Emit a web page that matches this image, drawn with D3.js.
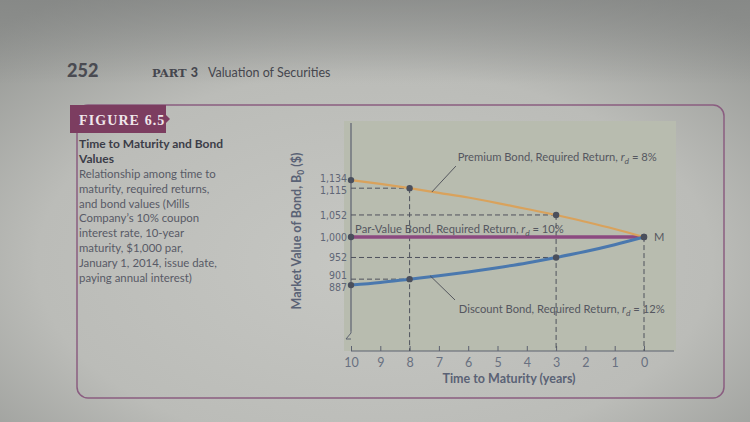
<!DOCTYPE html>
<html><head><meta charset="utf-8">
<script src="https://cdn.jsdelivr.net/npm/d3@7/dist/d3.min.js"></script>
<style>html,body{margin:0;padding:0;background:#b0b1ad;}svg{display:block;}</style>
</head><body>
<svg id="c" width="750" height="422"></svg>
<script>
const years = [10, 9, 8, 7, 6, 5, 4, 3, 2, 1, 0];
const premiumValues = [1134, 1125, 1115, 1104, 1093, 1080, 1066, 1052, 1036, 1019, 1000];
const parValues = [1000, 1000, 1000, 1000, 1000, 1000, 1000, 1000, 1000, 1000, 1000];
const discountValues = [887, 893, 901, 909, 918, 928, 939, 952, 966, 982, 1000];
const markedYears = [10, 8, 3, 0];
const yTickValues = [1134, 1115, 1052, 1000, 952, 901, 887];
const yTickLabels = ["1,134", "1,115", "1,052", "1,000", "952", "901", "887"];
const xTickValues = [10, 9, 8, 7, 6, 5, 4, 3, 2, 1, 0];
const captionBold = ["Time to Maturity and Bond", "Values"];
const captionLines = ["Relationship among time to", "maturity, required returns,", "and bond values (Mills",
  "Company\u2019s 10% coupon", "interest rate, 10-year", "maturity, $1,000 par,",
  "January 1, 2014, issue date,", "paying annual interest)"];

const svg = d3.select("#c");
const defs = svg.append("defs");
const rg = defs.append("radialGradient").attr("id","bg").attr("cx","0.5").attr("cy","0.62").attr("r","0.75");
rg.append("stop").attr("offset","0").attr("stop-color","#c6c7c3");
rg.append("stop").attr("offset","0.6").attr("stop-color","#bbbcb8");
rg.append("stop").attr("offset","1").attr("stop-color","#939592");
const lg = defs.append("linearGradient").attr("id","top").attr("x1",0).attr("y1",0).attr("x2",0).attr("y2",1);
lg.append("stop").attr("offset","0").attr("stop-color","#7f8180").attr("stop-opacity",0.6);
lg.append("stop").attr("offset","0.2").attr("stop-color","#7f8180").attr("stop-opacity",0.0);
svg.append("rect").attr("width",750).attr("height",422).attr("fill","url(#bg)");
svg.append("rect").attr("width",750).attr("height",422).attr("fill","url(#top)");

const font = "Lato, 'Open Sans', sans-serif";

// header
svg.append("text").attr("x",67).attr("y",77).attr("font-family",font).attr("font-weight",900)
  .attr("font-size",18).attr("fill","#4a4b52").text("252");
const hdr = svg.append("text").attr("x",152).attr("y",77).attr("font-family",font).attr("font-size",12.5).attr("fill","#45464e");
hdr.append("tspan").attr("font-family","'DejaVu Serif', serif").attr("font-weight","bold").attr("font-size",11.5).text("PART ");
hdr.append("tspan").attr("font-weight",900).text("3");
hdr.append("tspan").attr("dx",10).attr("font-size",12.5).text("Valuation of Securities");

// figure frame
svg.append("rect").attr("x",77).attr("y",105).attr("width",647).attr("height",293).attr("rx",11)
  .attr("fill","none").attr("stroke","#8a5d80").attr("stroke-width",1.5);
svg.append("path").attr("d","M70,105 H166 V115 L170,119 L166,123 V133 H70 Z").attr("fill","#7c3d60");
svg.append("text").attr("x",79).attr("y",125).attr("font-family","'Liberation Serif', serif").attr("font-weight","bold")
  .attr("font-size",14).attr("letter-spacing",1.1).attr("fill","#efe6ea").text("FIGURE 6.5");

// caption
captionBold.forEach((t,i)=>svg.append("text").attr("x",79).attr("y",148+i*15).attr("font-family",font)
  .attr("font-weight",700).attr("font-size",12).attr("fill","#3c3d48").text(t));
captionLines.forEach((t,i)=>svg.append("text").attr("x",79).attr("y",178+i*14.8).attr("font-family",font)
  .attr("font-size",11.4).attr("fill","#585a66").text(t));

// plot panel
svg.append("rect").attr("x",344).attr("y",121).attr("width",332).attr("height",230).attr("fill","#b8bcaf");

const x = d3.scaleLinear().domain([10,0]).range([351,644]);
const y = d3.scaleLinear().domain([732,1273]).range([351,121]);

// x axis
const xAxis = d3.axisBottom(x).tickValues(xTickValues).tickSize(-5).tickPadding(5).tickFormat(d3.format("d"));
const gx = svg.append("g").attr("transform","translate(0,351)").call(xAxis);
gx.select(".domain").attr("d","M351,0H674").attr("stroke","#5d6270").attr("stroke-width",1.2);
gx.selectAll(".tick line").attr("stroke","#5d6270");
gx.selectAll(".tick text").attr("font-family",font).attr("font-size",12.5).attr("fill","#687080").attr("dy","0.9em");
svg.append("text").attr("x",509).attr("y",383).attr("text-anchor","middle").attr("font-family",font)
  .attr("font-weight",700).attr("font-size",12.5).attr("fill","#5a6275").text("Time to Maturity (years)");

// y axis
const yNudge = {1134:-2, 1115:2, 901:-4, 887:2};
const yAxis = d3.axisLeft(y).tickValues(yTickValues).tickSize(0).tickPadding(4)
  .tickFormat((d,i)=>yTickLabels[i]);
const gy = svg.append("g").attr("transform","translate(351,0)").call(yAxis);
gy.select(".domain").attr("d","M0,123V331").attr("stroke","#5d6270").attr("stroke-width",1.2);
gy.selectAll(".tick text").attr("font-family","'DejaVu Sans Condensed', 'DejaVu Sans', sans-serif")
  .attr("font-size",10.5).attr("fill","#5f6676").attr("y",d=>yNudge[d]||0);
svg.append("path").attr("d","M351,331 L351,333 L346,339 L351,339").attr("fill","none").attr("stroke","#5d6270").attr("stroke-width",1);
const yt = svg.append("text").attr("transform","translate(301,231) rotate(-90)").attr("text-anchor","middle")
  .attr("font-family",font).attr("font-weight",700).attr("font-size",12.5).attr("fill","#5a6275");
yt.append("tspan").text("Market Value of Bond, B");
yt.append("tspan").attr("font-size",8.5).attr("dy",3).text("0");
yt.append("tspan").attr("dy",-3).text(" ($)");

// dashed guide lines
const dash = svg.append("g").attr("stroke","#4f525c").attr("stroke-width",1).attr("stroke-dasharray","5,3").attr("fill","none");
[[8, premiumValues[2]], [3, premiumValues[7]], [3, discountValues[7]], [8, discountValues[2]]].forEach(([yr,v])=>{
  dash.append("line").attr("x1",x(10)).attr("x2",x(yr)).attr("y1",y(v)).attr("y2",y(v));
});
[[8, premiumValues[2]], [3, premiumValues[7]], [0, 1000]].forEach(([yr,v])=>{
  dash.append("line").attr("x1",x(yr)).attr("x2",x(yr)).attr("y1",y(v)).attr("y2",351);
});

// lines
const line = d3.line().x((d,i)=>x(years[i])).y(d=>y(d)).curve(d3.curveMonotoneX);
svg.append("path").datum(parValues).attr("d",line).attr("fill","none").attr("stroke","#8c4a80").attr("stroke-width",3.5);
svg.append("path").datum(premiumValues).attr("d",line).attr("fill","none").attr("stroke","#d9a25c").attr("stroke-width",2.2);
svg.append("path").datum(discountValues).attr("d",line).attr("fill","none").attr("stroke","#4a78ae").attr("stroke-width",3);

// points
const pts = [];
markedYears.forEach(yr=>{
  const i = years.indexOf(yr);
  pts.push([yr, premiumValues[i]]);
  pts.push([yr, discountValues[i]]);
});
pts.push([10, parValues[0]]);
svg.selectAll("circle.pt").data(pts).join("circle").attr("class","pt")
  .attr("cx",d=>x(d[0])).attr("cy",d=>y(d[1])).attr("r",3.2).attr("fill","#4a4f5c");

// annotations
const ann = svg.append("g").attr("font-family",font).attr("font-size",11.2).attr("fill","#55575f");
function label(xp, yp, name, pct){
  const t = ann.append("text").attr("x",xp).attr("y",yp);
  t.append("tspan").text(name + ", Required Return, ");
  t.append("tspan").attr("font-style","italic").text("r");
  t.append("tspan").attr("font-style","italic").attr("font-size",8.5).attr("dy",3).text("d");
  t.append("tspan").attr("dy",-3).text(" = " + pct);
}
label(x(6.36), y(1178), "Premium Bond", "8%");
label(x(9.86), y(1009), "Par-Value Bond", "10%");
label(x(6.32), y(822), "Discount Bond", "12%");
ann.append("text").attr("x",x(0)+10).attr("y",y(1000)+4).text("M");
svg.append("line").attr("x1",x(6.42)).attr("y1",y(1167)).attr("x2",x(7.24)).attr("y2",y(1106))
  .attr("stroke","#4a4c55").attr("stroke-width",0.9);
svg.append("line").attr("x1",x(6.45)).attr("y1",y(852)).attr("x2",x(7.3)).attr("y2",y(909))
  .attr("stroke","#4a4c55").attr("stroke-width",0.9);
</script>
</body></html>
